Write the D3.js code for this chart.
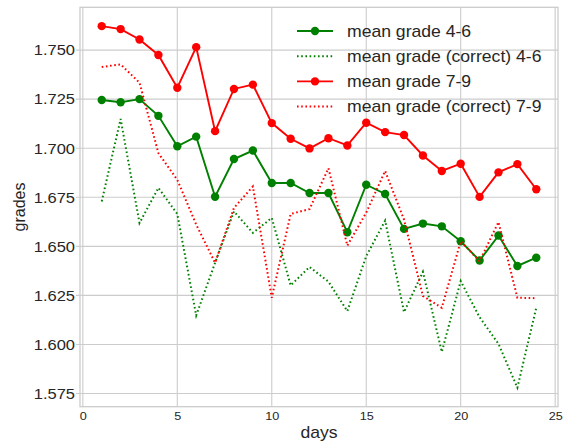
<!DOCTYPE html>
<html lang="en">
<head>
<meta charset="UTF-8">
<title>mean grades per day</title>
<script src="https://cdn.jsdelivr.net/npm/d3@7"></script>
<style>
    body { margin: 0; background: #fff; }
    text { font-family: "Liberation Sans", Arial, sans-serif; fill: #262626; }
</style>
</head>
<body>
<div id="chart"></div>
<script>
// days 1..24
var days = [1, 2, 3, 4, 5, 6, 7, 8, 9, 10, 11, 12, 13, 14, 15, 16, 17, 18, 19, 20, 21, 22, 23, 24];

var mean46 = [1.7246, 1.7234, 1.7250, 1.7165, 1.7010, 1.7059, 1.6753, 1.6945, 1.6988, 1.6823, 1.6823, 1.6772,
              1.6772, 1.6572, 1.6814, 1.6767, 1.6589, 1.6616, 1.6602, 1.6526, 1.6428, 1.6555, 1.6400, 1.6442];
var correct46 = [1.6729, 1.7149, 1.6619, 1.6798, 1.6665, 1.6148, 1.6416, 1.6678, 1.6569, 1.6645, 1.6301, 1.6395,
                 1.6320, 1.6170, 1.6450, 1.6631, 1.6165, 1.6370, 1.5962, 1.6323, 1.6139, 1.6003, 1.5780, 1.6187];
var mean79 = [1.7622, 1.7607, 1.7554, 1.7475, 1.7308, 1.7515, 1.7087, 1.7302, 1.7324, 1.7128, 1.7048, 1.6999,
              1.7051, 1.7014, 1.7130, 1.7082, 1.7067, 1.6963, 1.6884, 1.6921, 1.6752, 1.6877, 1.6919, 1.6791];
var correct79 = [1.7414, 1.7427, 1.7334, 1.6975, 1.6839, 1.6611, 1.6416, 1.6696, 1.6805, 1.6238, 1.6665, 1.6690,
                 1.6898, 1.6504, 1.6672, 1.6884, 1.6636, 1.6247, 1.6187, 1.6526, 1.6424, 1.6624, 1.6238, 1.6236];

var xTicks = [0, 5, 10, 15, 20, 25];
var yTicks = [1.575, 1.600, 1.625, 1.650, 1.675, 1.700, 1.725, 1.750];

var series = [
    {name: "mean grade 4-6", values: mean46, color: "#008000", dotted: false},
    {name: "mean grade (correct) 4-6", values: correct46, color: "#008000", dotted: true},
    {name: "mean grade 7-9", values: mean79, color: "#ff0000", dotted: false},
    {name: "mean grade (correct) 7-9", values: correct79, color: "#ff0000", dotted: true}
];

var W = 564, H = 443;
var pLeft = 80, pRight = 558, pTop = 7.3, pBottom = 406.7;
var SX = 1.1; // text in the picture is a bit wider than plain Arial

// widen text horizontally around its own anchor
function widen(sel) {
    sel.each(function () {
        var t = d3.select(this);
        var tx = +t.attr("x") || 0;
        t.attr("x", tx / SX).attr("transform", "scale(" + SX + ",1)");
    });
}

var svg = d3.select("#chart").append("svg")
    .attr("width", W)
    .attr("height", H);

var x = d3.scaleLinear().domain([-0.15, 25.15]).range([pLeft, pRight]);
var y = d3.scaleLinear().domain([1.5683, 1.7718]).range([pBottom, pTop]);

// grid
svg.append("g").selectAll("line")
    .data(xTicks).enter().append("line")
    .attr("x1", d => x(d)).attr("x2", d => x(d))
    .attr("y1", pTop).attr("y2", pBottom)
    .attr("stroke", "#cccccc").attr("stroke-width", 1.1);

svg.append("g").selectAll("line")
    .data(yTicks).enter().append("line")
    .attr("x1", pLeft - 4).attr("x2", pRight)
    .attr("y1", d => y(d)).attr("y2", d => y(d))
    .attr("stroke", "#cccccc").attr("stroke-width", 1.1);

// frame
svg.append("rect")
    .attr("x", pLeft).attr("y", pTop)
    .attr("width", pRight - pLeft).attr("height", pBottom - pTop)
    .attr("fill", "none")
    .attr("stroke", "#cccccc").attr("stroke-width", 1.3);

// tick labels
var xAxis = svg.append("g")
    .attr("transform", "translate(0," + pBottom + ")")
    .call(d3.axisBottom(x).tickValues(xTicks).tickSize(0).tickPadding(5).tickFormat(d3.format("d")));
xAxis.select(".domain").remove();
xAxis.selectAll("text").style("font-size", "11.5px").attr("dy", "0.71em").call(widen);

var yAxis = svg.append("g")
    .attr("transform", "translate(" + pLeft + ",0)")
    .call(d3.axisLeft(y).tickValues(yTicks).tickSize(0).tickPadding(5).tickFormat(d3.format(".3f")));
yAxis.select(".domain").remove();
yAxis.selectAll("text").style("font-size", "15px").call(widen);

// axis titles
svg.append("text")
    .attr("x", (pLeft + pRight) / 2)
    .attr("y", 438)
    .attr("text-anchor", "middle")
    .style("font-size", "16px")
    .text("days")
    .call(widen);

svg.append("text")
    .attr("transform", "translate(25," + ((pTop + pBottom) / 2) + ") rotate(-90)")
    .attr("text-anchor", "middle")
    .style("font-size", "16px")
    .text("grades");

// lines
var line = d3.line()
    .x((d, i) => x(days[i]))
    .y(d => y(d));

var plot = svg.append("g");

series.forEach(function (s) {
    plot.append("path")
        .datum(s.values)
        .attr("d", line)
        .attr("fill", "none")
        .attr("stroke", s.color)
        .attr("stroke-width", s.dotted ? 2 : 1.9)
        .attr("stroke-dasharray", s.dotted ? "1.6,2.6" : null);

    if (!s.dotted) {
        plot.selectAll(null)
            .data(s.values).enter().append("circle")
            .attr("cx", (d, i) => x(days[i]))
            .attr("cy", d => y(d))
            .attr("r", 4.2)
            .attr("fill", s.color);
    }
});

// legend
var legend = svg.append("g").selectAll("g")
    .data(series).enter().append("g")
    .attr("transform", (d, i) => "translate(297," + (31 + i * 25.2) + ")");

legend.append("line")
    .attr("x1", 0).attr("x2", 36)
    .attr("stroke", d => d.color)
    .attr("stroke-width", d => d.dotted ? 2 : 1.9)
    .attr("stroke-dasharray", d => d.dotted ? "1.6,2.6" : null);

legend.filter(d => !d.dotted).append("circle")
    .attr("cx", 18).attr("r", 4.2)
    .attr("fill", d => d.color);

legend.append("text")
    .attr("x", 50)
    .attr("dy", "0.35em")
    .style("font-size", "16px")
    .text(d => d.name)
    .call(widen);
</script>
</body>
</html>
